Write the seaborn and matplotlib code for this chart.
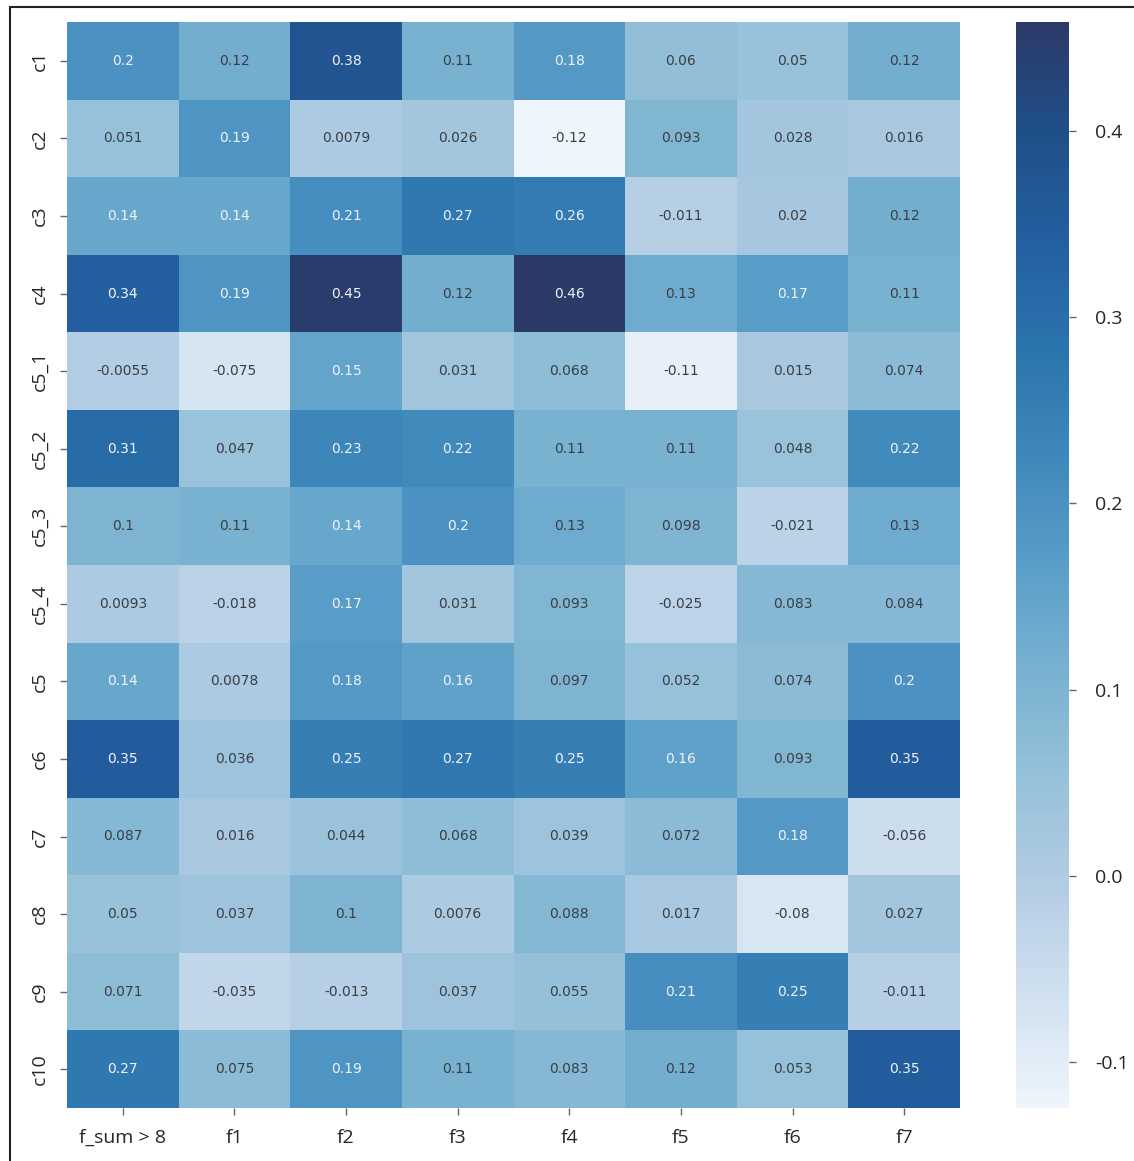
import numpy as np
import pandas as pd
import seaborn as sns
import matplotlib.pyplot as plt
from matplotlib.colors import LinearSegmentedColormap
from matplotlib.lines import Line2D

rows = ["c1", "c2", "c3", "c4", "c5_1", "c5_2", "c5_3", "c5_4",
        "c5", "c6", "c7", "c8", "c9", "c10"]
cols = ["f_sum > 8", "f1", "f2", "f3", "f4", "f5", "f6", "f7"]

c1 = [0.2, 0.12, 0.38, 0.11, 0.18, 0.06, 0.05, 0.12]
c2 = [0.051, 0.19, 0.0079, 0.026, -0.1246, 0.093, 0.028, 0.016]
c3 = [0.14, 0.14, 0.21, 0.27, 0.26, -0.011, 0.02, 0.12]
c4 = [0.34, 0.19, 0.45, 0.12, 0.4585, 0.13, 0.17, 0.11]
c5_1 = [-0.0055, -0.075, 0.15, 0.031, 0.068, -0.11, 0.015, 0.074]
c5_2 = [0.31, 0.047, 0.23, 0.22, 0.11, 0.11, 0.048, 0.22]
c5_3 = [0.1, 0.11, 0.14, 0.2, 0.13, 0.098, -0.021, 0.13]
c5_4 = [0.0093, -0.018, 0.17, 0.031, 0.093, -0.025, 0.083, 0.084]
c5 = [0.14, 0.0078, 0.18, 0.16, 0.097, 0.052, 0.074, 0.2]
c6 = [0.35, 0.036, 0.25, 0.27, 0.25, 0.16, 0.093, 0.35]
c7 = [0.087, 0.016, 0.044, 0.068, 0.039, 0.072, 0.18, -0.056]
c8 = [0.05, 0.037, 0.1, 0.0076, 0.088, 0.017, -0.08, 0.027]
c9 = [0.071, -0.035, -0.013, 0.037, 0.055, 0.21, 0.25, -0.011]
c10 = [0.27, 0.075, 0.19, 0.11, 0.083, 0.12, 0.053, 0.35]

df = pd.DataFrame([c1, c2, c3, c4, c5_1, c5_2, c5_3, c5_4, c5, c6, c7, c8, c9, c10],
                  index=rows, columns=cols)

# faded blues, sampled from the reference colorbar
cmap = LinearSegmentedColormap.from_list("faded_blues", [
    "#eef5fc", "#d1e1f0", "#b4cde4", "#97c1da", "#79b2d1", "#5a9ec8",
    "#3f88bb", "#2a74ad", "#245fa0", "#1f4f88", "#2c3a68",
])

sns.set_style("white")
plt.rcParams["font.family"] = ["Open Sans", "DejaVu Sans"]
plt.rcParams["axes.unicode_minus"] = False

fig = plt.figure(figsize=(11.34, 11.61), dpi=100)
ax = fig.add_axes([67 / 1134, 1 - 1108 / 1161, (960 - 67) / 1134, (1108 - 22) / 1161])
cax = fig.add_axes([1016 / 1134, 1 - 1108 / 1161, (1069 - 1016) / 1134, (1108 - 22) / 1161])

sns.heatmap(df, ax=ax, cbar_ax=cax, cmap=cmap, annot=True,
            annot_kws={"fontsize": 10, "family": "DejaVu Sans"})

# light text on the darker cells, dark text elsewhere
vals = df.values.flatten()
for t, v in zip(ax.texts, vals):
    t.set_color("#eef2f7" if v > 0.135 else "#3a3f45")

ax.tick_params(axis="both", length=5, width=1, color="#666666", labelsize=14, pad=8)
ax.tick_params(axis="x", bottom=True, pad=10)
ax.tick_params(axis="y", left=True)
plt.setp(ax.get_yticklabels(), rotation=90, va="center")
plt.setp(ax.get_xticklabels(), rotation=0)
ax.set_xlabel("")
ax.set_ylabel("")

cax.tick_params(length=5, width=1, color="#666666", labelsize=14, pad=14)
cax.yaxis.set_ticks([-0.1, 0.0, 0.1, 0.2, 0.3, 0.4])
for sp in cax.spines.values():
    sp.set_visible(False)

# screenshot frame on the left and top
fig.add_artist(Line2D([10 / 1134, 10 / 1134], [0, 1 - 7 / 1161],
                      transform=fig.transFigure, color="#222222", lw=1.5))
fig.add_artist(Line2D([10 / 1134, 1], [1 - 7 / 1161, 1 - 7 / 1161],
                      transform=fig.transFigure, color="#222222", lw=1.5))

fig.savefig("out.png", dpi=100)
